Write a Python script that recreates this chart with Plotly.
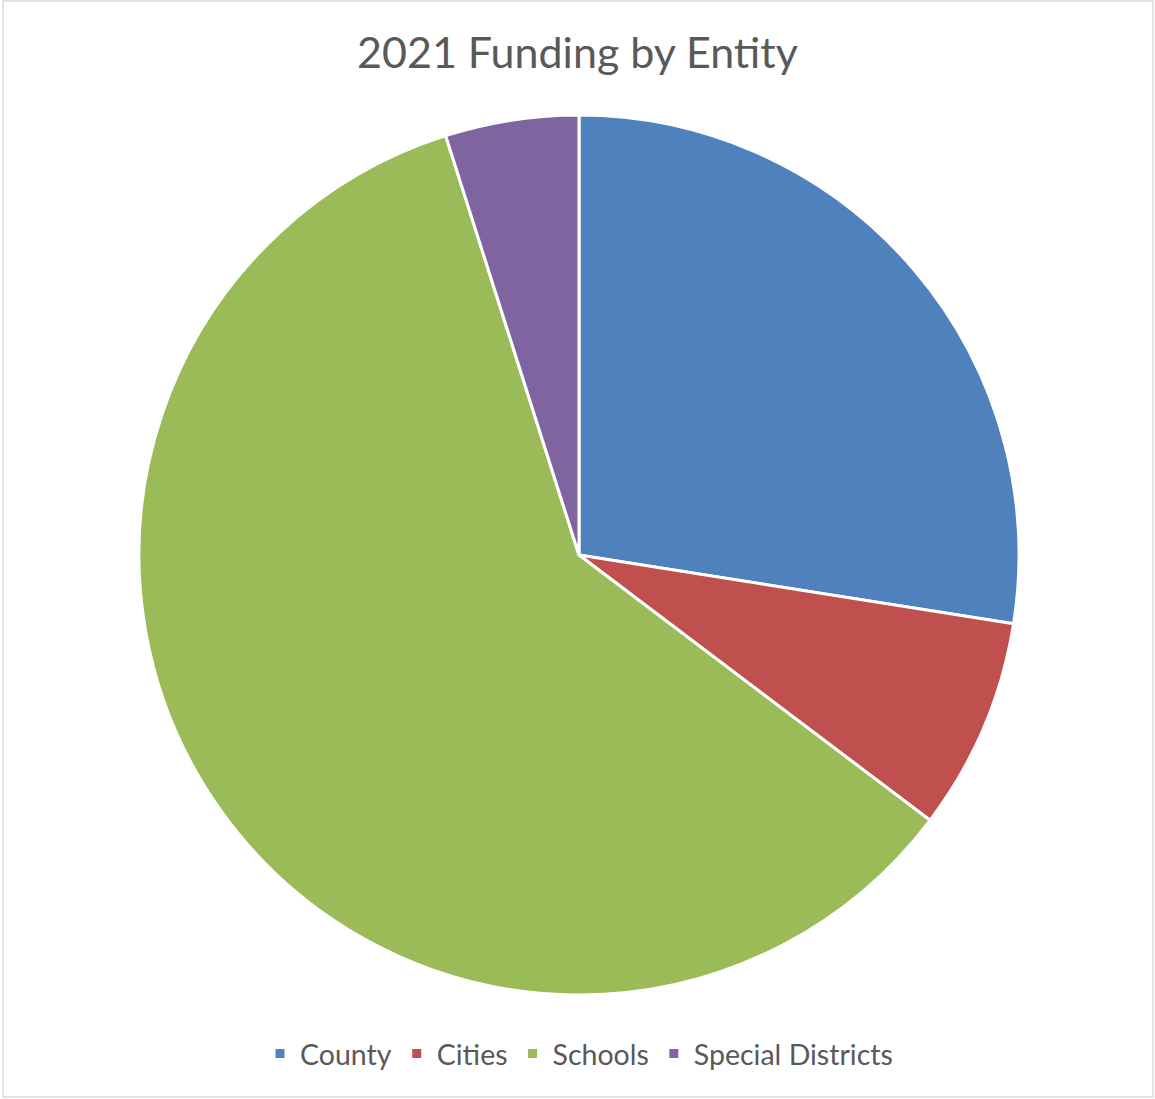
import plotly.graph_objects as go

labels = ["County", "Cities", "Schools", "Special Districts"]
values = [27.5, 7.8, 59.8, 4.9]
colors = ["#4F81BD", "#C0504D", "#9BBB59", "#8064A2"]

fig = go.Figure(go.Pie(
    labels=labels, values=values, sort=False, direction="clockwise", rotation=0,
    marker=dict(colors=colors, line=dict(color="white", width=3)),
    textinfo="none", hoverinfo="label+value+percent",
))

fig.update_layout(
    width=1155, height=1099,
    margin=dict(l=139, r=136, t=115, b=104),
    paper_bgcolor="white",
    font=dict(family="Lato", color="#595959"),
    title=dict(text="2021 Funding by Entity", x=0.5, xanchor="center", y=1-53/1099, yanchor="middle",
               font=dict(size=43, color="#595959", family="Lato")),
    legend=dict(orientation="h", x=0.5, xanchor="center", y=-(1054-995)/880, yanchor="middle",
                font=dict(size=28.5, color="#595959", family="Lato"), itemwidth=30, traceorder="normal"),
    shapes=[dict(type="rect", xref="paper", yref="paper",
                 x0=-(139-3)/880, x1=1+(1153-1019)/880, y0=-(1097-995)/880, y1=1+(115-1)/880,
                 line=dict(color="#D9D9D9", width=1.5))],
)

fig.write_html("out.html")
